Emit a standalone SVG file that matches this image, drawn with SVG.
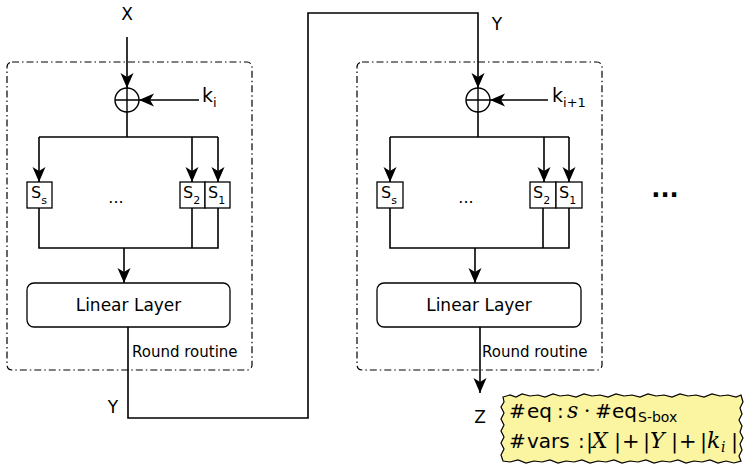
<svg xmlns="http://www.w3.org/2000/svg" width="745" height="465" viewBox="0 0 745 465">
<style>
text{font-family:"DejaVu Sans","Liberation Sans",sans-serif;fill:#000}
.lbl{font-size:17px}
.ll{font-size:17px}
.rr{font-size:15px}
.sb{font-size:16px}
.sub{font-size:11px}
.line{fill:none;stroke:#000;stroke-width:1.6}
.arr{fill:none;stroke:#000;stroke-width:1.6;marker-end:url(#ah)}
.round{fill:none;stroke:#000;stroke-width:1.2;stroke-dasharray:7 3 1.5 3}
.box{fill:#fff;stroke:#000;stroke-width:1.3}
.sf{font-family:"DejaVu Serif","Liberation Serif",serif}
.mi{font-family:"DejaVu Serif","Liberation Serif",serif;font-style:italic}
</style>
<defs>
<marker id="ah" markerUnits="userSpaceOnUse" markerWidth="16" markerHeight="14" refX="15" refY="6.5" orient="auto">
<path d="M0,0 L15,6.5 L0,13 L4,6.5 z" fill="#000"/>
</marker>
</defs>

<g id="round1">
<rect class="round" x="7" y="62" width="245" height="308" rx="5"/>
<text class="rr" x="132" y="357">Round routine</text>
</g>
<g id="round2">
<rect class="round" x="357" y="62" width="245" height="308" rx="5"/>
<text class="rr" x="482" y="357">Round routine</text>
</g>

<g id="connectors">
<line class="arr" x1="127" y1="37" x2="127" y2="88"/>
<line class="arr" x1="199" y1="100" x2="139" y2="100"/>
<polyline class="line" points="127,112 127,137"/>
<polyline class="line" points="39,137 218,137"/>
<line class="arr" x1="39" y1="137" x2="39" y2="182"/>
<line class="arr" x1="192" y1="137" x2="192" y2="182"/>
<line class="arr" x1="218" y1="137" x2="218" y2="182"/>
<polyline class="line" points="39,208 39,248 218,248 218,208"/>
<line class="line" x1="192" y1="208" x2="192" y2="248"/>
<line class="arr" x1="124" y1="248" x2="124" y2="283"/>
<polyline class="arr" points="128,327 128,418 308,418 308,13 478,13 478,88"/>
<line class="arr" x1="548" y1="100" x2="490" y2="100"/>
<polyline class="line" points="478,112 478,137"/>
<polyline class="line" points="390,137 569,137"/>
<line class="arr" x1="390" y1="137" x2="390" y2="182"/>
<line class="arr" x1="544" y1="137" x2="544" y2="182"/>
<line class="arr" x1="569" y1="137" x2="569" y2="182"/>
<polyline class="line" points="390,208 390,248 569,248 569,208"/>
<line class="line" x1="543" y1="208" x2="543" y2="248"/>
<line class="arr" x1="475" y1="248" x2="475" y2="283"/>
<line class="arr" x1="480" y1="327" x2="480" y2="393"/>
</g>

<g id="labels">
<text class="lbl" x="127" y="20" text-anchor="middle">X</text>
<text class="lbl" x="497" y="30" text-anchor="middle">Y</text>
<text class="lbl" x="113" y="413" text-anchor="middle">Y</text>
<text class="lbl" x="480" y="423" text-anchor="middle">Z</text>
<text x="202" y="102" font-size="19">k<tspan font-size="13" dy="5">i</tspan></text>
<text x="552" y="102" font-size="19">k<tspan font-size="13" dy="5">i+1</tspan></text>
<text x="665" y="197" text-anchor="middle" font-size="24" font-weight="bold">...</text>
</g>

<g id="xor1">
<circle cx="127" cy="100" r="12" fill="#fff" stroke="#000" stroke-width="1.4"/>
<path d="M115,100 H139 M127,88 V112" stroke="#000" stroke-width="1.4"/>
</g>
<g id="xor2">
<circle cx="478" cy="100" r="12" fill="#fff" stroke="#000" stroke-width="1.4"/>
<path d="M466,100 H490 M478,88 V112" stroke="#000" stroke-width="1.4"/>
</g>

<g id="sboxes1">
<rect class="box" x="27" y="182" width="25" height="26"/>
<text class="sb" x="31" y="198">S<tspan class="sub" dy="6">s</tspan></text>
<text x="116" y="203" text-anchor="middle" font-size="16">...</text>
<rect class="box" x="180" y="182" width="25" height="26"/>
<text class="sb" x="183" y="198">S<tspan class="sub" dy="6">2</tspan></text>
<rect class="box" x="205" y="182" width="25" height="26"/>
<text class="sb" x="208" y="198">S<tspan class="sub" dy="6">1</tspan></text>
</g>
<g id="sboxes2">
<rect class="box" x="377" y="182" width="26" height="26"/>
<text class="sb" x="381" y="198">S<tspan class="sub" dy="6">s</tspan></text>
<text x="466" y="203" text-anchor="middle" font-size="16">...</text>
<rect class="box" x="530" y="182" width="26" height="26"/>
<text class="sb" x="533" y="198">S<tspan class="sub" dy="6">2</tspan></text>
<rect class="box" x="556" y="182" width="26" height="26"/>
<text class="sb" x="559" y="198">S<tspan class="sub" dy="6">1</tspan></text>
</g>

<g id="linear1">
<rect class="box" x="27" y="283" width="203" height="44" rx="7"/>
<text class="ll" x="128.5" y="311" text-anchor="middle">Linear Layer</text>
</g>
<g id="linear2">
<rect class="box" x="377" y="283" width="204" height="44" rx="7"/>
<text class="ll" x="479" y="311" text-anchor="middle">Linear Layer</text>
</g>

<g id="note">
<path fill="#fbf4a0" stroke="#000" stroke-width="1.2" d="M503,397 L510,395 L516,397 L522,394 L530,396 L538,395 L545,397 L553,394 L560,396 L568,395 L576,397 L584,394 L592,396 L600,395 L608,397 L616,394 L624,396 L632,395 L640,397 L648,394 L656,396 L664,395 L672,397 L680,394 L688,396 L696,395 L704,397 L712,394 L720,396 L728,395 L736,397 L741,395 L743,402 L740,408 L742,414 L739,420 L742,426 L740,432 L743,438 L740,444 L742,450 L739,456 L741,461 L734,463 L726,461 L718,463 L710,460 L702,462 L694,461 L686,463 L678,460 L670,462 L662,461 L654,463 L646,460 L638,462 L630,461 L622,463 L614,460 L606,462 L598,461 L590,463 L582,460 L574,462 L566,461 L558,463 L550,460 L542,462 L534,461 L526,463 L518,460 L510,462 L503,461 L501,455 L504,449 L501,443 L504,437 L501,431 L504,425 L501,419 L504,413 L501,407 L504,402 Z"/>
<text y="418" font-size="20"><tspan x="509">#</tspan><tspan x="527">eq</tspan><tspan x="557">:</tspan><tspan class="mi" x="567" font-size="22">s</tspan><tspan class="sf" x="584">·</tspan><tspan x="595">#</tspan><tspan x="612">eq</tspan><tspan x="638" font-size="14" dy="4">S-box</tspan></text>
<text y="448" font-size="20"><tspan x="509">#</tspan><tspan x="527">vars</tspan><tspan x="578">:</tspan><tspan class="sf" x="586" font-size="21">|</tspan><tspan class="mi" x="592" font-size="22">X</tspan><tspan class="sf" x="614" font-size="21">|</tspan><tspan class="sf" x="622" font-size="21">+</tspan><tspan class="sf" x="643" font-size="21">|</tspan><tspan class="mi" x="650" font-size="22">Y</tspan><tspan class="sf" x="671" font-size="21">|</tspan><tspan class="sf" x="679" font-size="21">+</tspan><tspan class="sf" x="700" font-size="21">|</tspan><tspan class="mi" x="707" font-size="22">k</tspan><tspan class="mi" x="721" font-size="14" dy="4">i</tspan><tspan class="sf" x="731" font-size="21" dy="-4">|</tspan></text>
</g>
</svg>
